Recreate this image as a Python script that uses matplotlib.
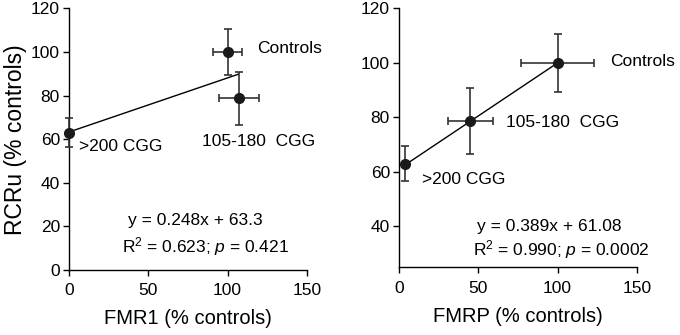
import numpy as np
from matplotlib import pyplot as plt

plt.rcParams['font.family'] = ['Liberation Sans', 'DejaVu Sans']
plt.rcParams['mathtext.fontset'] = 'custom'
plt.rcParams['mathtext.rm'] = 'Liberation Sans'
plt.rcParams['mathtext.it'] = 'Liberation Sans:italic'

# group labels
groups = ["Controls", "105-180  CGG", ">200 CGG"]
rcru = [100, 78.7, 63]
rcru_err = [10.5, 12.2, 6.5]

# left panel: FMR1
fmr1 = [100, 107.3, 0]
fmr1_err = [9, 12.5, 0]
fmr1_fit = (0.248, 63.3)
fmr1_fit_x = [0, 107]

# right panel: FMRP
fmrp = [100, 45, 4]
fmrp_err = [22.8, 14, 0]
fmrp_fit = (0.389, 61.08)
fmrp_fit_x = [4, 100]

fig = plt.figure(figsize=(6.8, 3.35), dpi=100)
ax1 = fig.add_axes([0.1015, 0.194, 0.3496, 0.781])
ax2 = fig.add_axes([0.5868, 0.202, 0.3496, 0.773])


def draw_panel(ax, x, xerr, fit, fit_x):
    fx = np.array(fit_x)
    ax.plot(fx, fit[0] * fx + fit[1], color='black', lw=1.0, zorder=2)
    ax.errorbar(x, rcru, xerr=xerr, yerr=rcru_err, fmt='o', color='#1a1a1a',
                ecolor='#333333', elinewidth=1.2, capsize=3, capthick=1.2,
                markersize=7, zorder=3, clip_on=False)
    for s in ['top', 'right']:
        ax.spines[s].set_visible(False)
    for s in ['left', 'bottom']:
        ax.spines[s].set_linewidth(1.0)
    ax.tick_params(direction='out', length=4.5, width=1.0, labelsize=12.5)
    ax.tick_params(axis='x', pad=5)
    ax.tick_params(axis='y', pad=2)
    ax.set_xlim(0, 150)
    ax.set_xticks([0, 50, 100, 150])


draw_panel(ax1, fmr1, fmr1_err, fmr1_fit, fmr1_fit_x)
ax1.set_ylim(0, 120)
ax1.set_yticks(np.arange(0, 121, 20))
ax1.set_xlabel("FMR1 (% controls)", fontsize=14.5, labelpad=8)
ax1.set_ylabel("RCRu (% controls)", fontsize=16.5, labelpad=3)
ax1.text(118.4, 101.8, groups[0], fontsize=12.5, va='center')
ax1.text(83.7, 58.8, groups[1], fontsize=12.5, va='center')
ax1.text(6.5, 56.5, groups[2], fontsize=12.5, va='center')
ax1.text(37.4, 22.9, "y = %.3fx + %.1f" % fmr1_fit, fontsize=12.5, va='center')
ax1.text(33.2, 10.7, "R$^2$ = 0.623; $p$ = 0.421", fontsize=12.5, va='center')

draw_panel(ax2, fmrp, fmrp_err, fmrp_fit, fmrp_fit_x)
ax2.set_ylim(25, 120)
ax2.set_yticks(np.arange(40, 121, 20))
ax2.set_xlabel("FMRP (% controls)", fontsize=14.5, labelpad=8)
ax2.text(133.1, 100.5, groups[0], fontsize=12.5, va='center')
ax2.text(67.5, 78.2, groups[1], fontsize=12.5, va='center')
ax2.text(14.3, 57.3, groups[2], fontsize=12.5, va='center')
ax2.text(49, 39.9, "y = %.3fx + %.2f" % fmrp_fit, fontsize=12.5, va='center')
ax2.text(46.9, 31.7, "R$^2$ = 0.990; $p$ = 0.0002", fontsize=12.5, va='center')

fig.savefig("out.png", dpi=100)
